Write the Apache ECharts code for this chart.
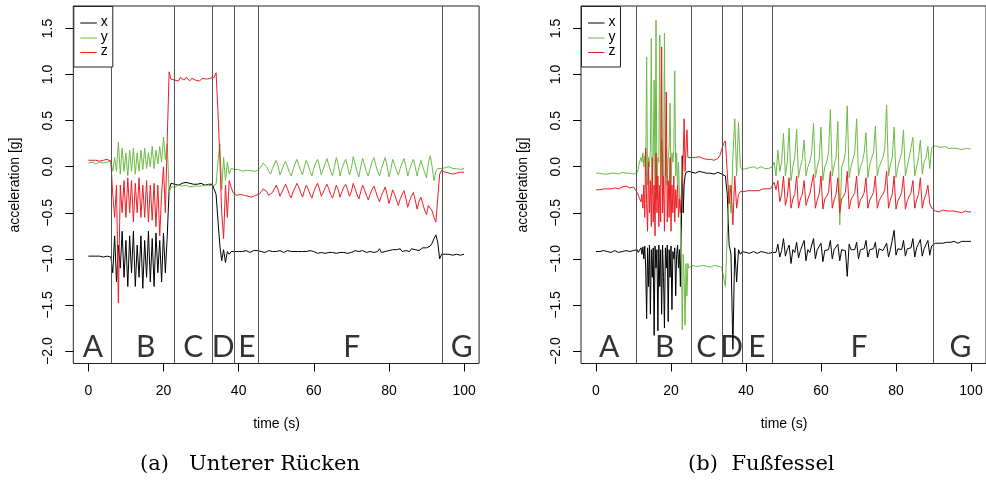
<!DOCTYPE html>
<html>
<head>
<meta charset="utf-8">
<script src="https://cdn.jsdelivr.net/npm/echarts@6/dist/echarts.min.js"></script>
<style>
html,body{margin:0;padding:0;background:#fff;}
#chart{width:986px;height:482px;}
</style>
</head>
<body>
<div id="chart"></div>
<script>
// ---------- sampling grids (seconds) ----------
const L_SEGMENTS = [[0, 100, 0.5]];
const R_SEGMENTS = [[0, 10.5, 0.5], [11, 24.75, 0.25], [25, 100, 0.5]];

// ---------- left panel: Unterer Rücken ----------
const L_X = [
-0.97,-0.98,-0.97,-0.98,-0.97,-0.98,-0.97,-0.97,-0.98,-0.97,
-0.97,-0.96,-0.98,-1.15,-0.75,-1.25,-0.85,-1.1,-0.7,-1.2,
-0.8,-1.3,-0.75,-1.15,-0.7,-1.3,-0.85,-1.2,-0.75,-1.32,
-0.8,-1.2,-0.7,-1.25,-0.78,-1.3,-0.72,-1.15,-0.8,-1.25,
-0.72,-1.15,-0.75,-0.25,-0.18,-0.2,-0.19,-0.17,-0.2,-0.18,
-0.18,-0.2,-0.17,-0.19,-0.18,-0.2,-0.19,-0.17,-0.19,-0.2,
-0.18,-0.19,-0.2,-0.18,-0.19,-0.2,-0.19,-0.21,-0.3,-0.58,
-0.85,-1.02,-0.9,-1.04,-0.92,-0.95,-0.92,-0.93,-0.92,-0.93,
-0.92,-0.93,-0.92,-0.92,-0.91,-0.92,-0.93,-0.92,-0.91,-0.92,
-0.91,-0.9,-0.92,-0.91,-0.93,-0.92,-0.91,-0.93,-0.92,-0.91,
-0.92,-0.93,-0.91,-0.92,-0.93,-0.92,-0.91,-0.93,-0.92,-0.93,
-0.92,-0.93,-0.92,-0.94,-0.92,-0.93,-0.92,-0.93,-0.91,-0.93,
-0.92,-0.93,-0.94,-0.92,-0.93,-0.92,-0.94,-0.92,-0.93,-0.92,
-0.93,-0.92,-0.94,-0.92,-0.93,-0.91,-0.93,-0.92,-0.94,-0.92,
-0.93,-0.92,-0.91,-0.93,-0.92,-0.94,-0.91,-0.92,-0.93,-0.91,
-0.92,-0.9,-0.93,-0.91,-0.92,-0.89,-0.93,-0.91,-0.92,-0.9,
-0.91,-0.93,-0.9,-0.92,-0.9,-0.91,-0.89,-0.92,-0.9,-0.91,
-0.9,-0.92,-0.89,-0.91,-0.9,-0.89,-0.91,-0.9,-0.88,-0.89,
-0.88,-0.87,-0.86,-0.83,-0.78,-0.74,-0.82,-1.0,-0.95,-0.96,
-0.95,-0.96,-0.95,-0.94,-0.96,-0.95,-0.95,-0.94,-0.96,-0.95,
-0.95];
const L_Y = [
0.04,0.03,0.05,0.04,0.03,0.04,0.05,0.03,0.04,0.04,
0.05,0.04,0.06,-0.05,0.1,-0.05,0.27,-0.08,0.2,-0.05,
0.15,-0.1,0.18,-0.05,0.2,-0.08,0.15,-0.05,0.18,-0.03,
0.2,-0.02,0.15,0.0,0.22,-0.02,0.18,0.03,0.22,0.05,
0.32,0.08,0.25,-0.28,-0.22,-0.2,-0.22,-0.21,-0.2,-0.22,
-0.21,-0.22,-0.2,-0.21,-0.22,-0.2,-0.21,-0.22,-0.21,-0.2,
-0.21,-0.22,-0.2,-0.21,-0.2,-0.22,-0.21,-0.2,-0.19,0.05,
0.25,-0.25,0.1,-0.15,0.05,-0.08,-0.02,-0.04,-0.03,-0.04,
-0.03,-0.04,-0.05,-0.03,-0.04,-0.05,-0.04,-0.03,-0.05,-0.04,
-0.04,-0.03,0.0,0.04,0.06,0.0,-0.05,-0.08,-0.02,0.03,
0.07,0.01,-0.09,-0.04,0.02,0.06,0.0,-0.06,-0.1,-0.03,
0.03,0.08,0.02,-0.04,-0.09,0.0,0.07,0.02,-0.05,-0.1,
-0.02,0.04,0.08,0.01,-0.09,-0.03,0.03,0.09,0.02,-0.05,
-0.1,0.0,0.1,0.02,-0.1,-0.02,0.04,0.08,0.0,-0.09,
-0.02,0.11,0.03,-0.05,-0.11,0.0,0.09,0.02,-0.05,-0.1,
-0.02,0.05,0.1,0.02,-0.05,-0.1,-0.02,0.04,0.1,0.01,
-0.11,-0.03,0.08,0.02,-0.04,-0.09,-0.02,0.04,0.09,0.01,
-0.1,-0.03,0.03,0.08,0.0,-0.1,-0.01,0.07,0.0,-0.06,
-0.12,0.04,0.12,0.0,-0.15,-0.05,-0.02,-0.01,-0.02,-0.01,
-0.01,-0.02,0.0,-0.01,-0.02,-0.01,-0.02,-0.01,-0.03,-0.02,
-0.02];
const L_Z = [
0.07,0.08,0.07,0.09,0.07,0.08,0.06,0.08,0.07,0.09,
0.08,0.1,0.06,-0.3,-0.55,-0.2,-1.48,-0.2,-0.5,-0.15,
-0.55,-0.12,-0.5,-0.15,-0.6,-0.18,-0.5,-0.12,-0.55,-0.2,
-0.55,-0.15,-0.6,-0.2,-0.58,-0.18,-0.65,-0.2,-0.75,-0.3,
0.0,-0.5,0.3,1.03,0.95,0.97,0.94,0.96,0.93,0.97,
0.95,0.94,0.97,0.95,0.93,0.96,0.95,0.94,0.96,0.93,
0.95,0.96,0.94,0.95,0.93,0.96,0.94,0.97,1.02,0.6,
0.1,-0.5,-0.78,-0.2,-0.55,-0.15,-0.22,-0.28,-0.3,-0.31,
-0.31,-0.3,-0.32,-0.31,-0.3,-0.32,-0.31,-0.33,-0.32,-0.31,
-0.32,-0.3,-0.27,-0.24,-0.22,-0.27,-0.31,-0.33,-0.28,-0.24,
-0.2,-0.25,-0.32,-0.28,-0.23,-0.19,-0.24,-0.3,-0.34,-0.27,
-0.23,-0.18,-0.22,-0.28,-0.33,-0.26,-0.2,-0.24,-0.3,-0.34,
-0.27,-0.22,-0.18,-0.24,-0.32,-0.28,-0.23,-0.19,-0.24,-0.3,
-0.34,-0.27,-0.2,-0.25,-0.33,-0.27,-0.22,-0.19,-0.25,-0.32,
-0.27,-0.18,-0.24,-0.3,-0.35,-0.27,-0.2,-0.25,-0.31,-0.36,
-0.3,-0.25,-0.21,-0.27,-0.33,-0.38,-0.31,-0.27,-0.22,-0.3,
-0.4,-0.33,-0.25,-0.3,-0.36,-0.42,-0.35,-0.3,-0.26,-0.34,
-0.44,-0.37,-0.32,-0.28,-0.36,-0.46,-0.38,-0.33,-0.4,-0.47,
-0.52,-0.42,-0.4,-0.48,-0.55,-0.6,-0.62,-0.08,-0.04,-0.05,
-0.06,-0.05,-0.07,-0.06,-0.08,-0.06,-0.07,-0.09,-0.06,-0.07,
-0.06];

// ---------- right panel: Fußfessel ----------
const R_X = [
-0.92,-0.91,-0.92,-0.93,-0.91,-0.92,-0.92,-0.91,-0.93,-0.92,
-0.91,-0.92,-0.93,-0.91,-0.92,-0.92,-0.91,-0.93,-0.92,-0.91,
-0.91,-0.92,
-0.9,-0.93,-0.91,-0.92,-0.88,-0.95,-0.87,-1.0,
-0.86,-1.1,-1.65,-0.88,-1.3,-0.85,-1.6,-0.9,
-1.2,-0.88,-1.83,-0.86,-1.1,-0.9,-1.78,-0.85,
-1.3,-0.9,-1.6,-0.85,-1.2,-1.75,-0.88,-1.1,
-0.85,-1.68,-0.9,-1.2,-0.86,-1.55,-0.92,-1.0,
-0.88,-1.4,-0.95,-0.85,-1.1,-0.9,-1.3,-0.7,
0.12,-0.5,-0.2,-0.1,-0.06,-0.05,-0.06,-0.05,
-0.05,-0.06,-0.05,-0.07,-0.06,-0.05,-0.07,-0.06,-0.06,-0.07,
-0.06,-0.07,-0.06,-0.08,-0.07,-0.06,-0.07,-0.08,-0.09,-0.1,
-0.3,-0.85,-0.95,-1.98,-0.88,-1.25,-0.9,-0.95,-0.92,-0.94,
-0.93,-0.92,-0.94,-0.93,-0.92,-0.93,-0.94,-0.93,-0.92,-0.94,
-0.93,-0.92,-0.94,-0.92,-0.93,-0.91,-0.93,-0.84,-0.98,-0.91,
-0.78,-0.97,-0.9,-0.85,-1.05,-0.9,-0.93,-0.82,-0.99,-0.91,
-0.92,-0.8,-1.02,-0.9,-0.93,-0.91,-0.78,-1.0,-0.9,-0.92,
-0.83,-1.03,-0.91,-0.93,-0.9,-0.8,-1.0,-0.9,-0.92,-0.84,
-1.02,-0.9,-0.92,-0.91,-1.19,-0.84,-0.9,-0.92,-0.9,-0.82,
-1.0,-0.9,-0.91,-0.89,-0.8,-0.98,-0.9,-0.91,-0.89,-0.82,
-0.99,-0.89,-0.9,-0.91,-0.89,-0.83,-0.98,-0.9,-0.89,-0.69,
-0.96,-0.89,-0.88,-0.9,-0.8,-0.97,-0.89,-0.9,-0.88,-0.78,
-0.98,-0.88,-0.9,-0.79,-0.97,-0.89,-0.88,-0.8,-0.96,-0.86,
-0.84,-0.83,-0.82,-0.83,-0.82,-0.83,-0.82,-0.82,-0.83,-0.82,
-0.82,-0.81,-0.82,-0.83,-0.82,-0.81,-0.82,-0.81,-0.82,-0.81,
-0.81];
const R_Y = [
-0.07,-0.08,-0.07,-0.06,-0.08,-0.07,-0.08,-0.06,-0.07,-0.08,
-0.07,-0.06,-0.08,-0.07,-0.06,-0.08,-0.07,-0.09,-0.07,-0.08,
-0.08,-0.09,
-0.06,-0.03,0.03,0.07,0.1,0.05,0.15,0.0,
0.12,-0.1,1.19,-0.2,0.1,0.0,0.2,1.39,
-0.3,0.1,0.94,-0.25,1.59,-0.35,0.1,0.05,
1.43,-0.2,0.3,0.1,-0.3,1.45,-0.1,0.2,
-0.2,0.1,0.2,0.69,-0.25,0.15,0.05,0.2,
1.04,-0.1,0.15,-0.25,0.05,-0.3,-0.55,-0.9,
-1.77,-0.95,-1.2,-1.72,-1.05,-1.4,-1.05,-1.1,
-1.08,-1.07,-1.09,-1.08,-1.07,-1.08,-1.09,-1.07,-1.08,-1.08,
-1.08,-1.09,-1.08,-1.07,-1.09,-1.08,-1.1,-1.09,-1.1,-1.3,
-0.75,-0.2,-0.5,0.1,0.52,-0.1,0.48,0.0,-0.03,-0.02,
-0.02,-0.03,-0.01,-0.02,0.0,-0.01,-0.02,-0.01,0.0,-0.02,
-0.02,-0.01,-0.02,-0.03,0.0,0.05,-0.1,0.18,-0.05,0.05,
0.36,-0.1,0.05,0.42,-0.15,0.0,0.1,0.41,-0.12,0.0,
0.08,0.29,-0.1,0.0,0.05,0.15,0.47,-0.12,0.0,0.08,
0.43,-0.15,0.0,0.05,0.15,0.62,-0.1,0.02,0.1,0.49,
-0.63,0.0,0.05,0.15,0.66,-0.12,0.0,0.08,0.15,0.52,
-0.1,0.0,0.05,0.15,0.37,-0.12,0.02,0.1,0.15,0.44,
-0.1,0.0,0.05,0.1,0.2,0.67,-0.1,0.02,0.1,0.43,
-0.12,0.0,0.08,0.15,0.4,-0.1,0.0,0.1,0.12,0.32,
-0.1,0.0,0.1,0.29,-0.08,0.05,0.1,0.22,-0.02,0.2,
0.23,0.21,0.22,0.2,0.21,0.2,0.22,0.21,0.2,0.19,
0.2,0.19,0.2,0.21,0.19,0.2,0.19,0.18,0.2,0.19,
0.19];
const R_Z = [
-0.25,-0.24,-0.25,-0.23,-0.24,-0.25,-0.24,-0.23,-0.24,-0.22,
-0.23,-0.22,-0.24,-0.23,-0.22,-0.23,-0.21,-0.22,-0.23,-0.21,
-0.22,-0.25,
-0.28,-0.3,-0.33,-0.35,-0.38,-0.3,-0.45,-0.2,
-0.55,0.2,-0.4,-0.7,0.05,-0.5,-0.15,-0.65,
0.1,-0.6,-0.2,-0.75,0.15,-0.5,-0.1,-0.65,
-0.2,-0.6,1.3,-0.5,-0.1,-0.7,0.0,0.81,
-0.6,-0.15,-0.55,0.1,-0.7,-0.2,-0.5,-0.1,
-0.6,-0.25,-0.45,-0.2,-0.55,-0.35,-0.5,-0.3,
-0.2,0.1,0.52,-0.05,0.2,0.4,0.1,0.12,
0.11,0.1,0.12,0.1,0.09,0.11,0.1,0.09,0.1,0.08,
0.09,0.08,0.1,0.07,0.08,0.09,0.12,0.18,0.25,0.28,
0.3,-0.4,-0.2,-0.63,-0.1,-0.45,-0.3,-0.27,-0.28,-0.27,
-0.27,-0.26,-0.27,-0.26,-0.25,-0.26,-0.25,-0.26,-0.25,-0.24,
-0.25,-0.24,-0.25,-0.24,-0.22,-0.17,-0.25,-0.15,-0.38,-0.3,
-0.1,-0.42,-0.33,-0.12,-0.45,-0.35,-0.3,-0.1,-0.45,-0.35,
-0.3,-0.15,-0.42,-0.35,-0.3,-0.28,-0.08,-0.45,-0.36,-0.3,
-0.1,-0.46,-0.35,-0.32,-0.28,-0.05,-0.45,-0.36,-0.3,-0.12,
-0.5,-0.35,-0.32,-0.28,-0.05,-0.46,-0.36,-0.32,-0.28,-0.1,
-0.45,-0.36,-0.33,-0.28,-0.12,-0.45,-0.36,-0.32,-0.28,-0.1,
-0.45,-0.37,-0.33,-0.3,-0.25,-0.05,-0.45,-0.36,-0.3,-0.1,
-0.46,-0.37,-0.33,-0.28,-0.1,-0.46,-0.37,-0.32,-0.28,-0.15,
-0.45,-0.36,-0.3,-0.12,-0.45,-0.35,-0.3,-0.2,-0.4,-0.45,
-0.47,-0.48,-0.47,-0.49,-0.48,-0.47,-0.49,-0.48,-0.5,-0.48,
-0.49,-0.48,-0.5,-0.49,-0.48,-0.5,-0.49,-0.48,-0.5,-0.49,
-0.49];

// ---------- phase boundaries and labels ----------
const L_BOUNDS = [6.0, 22.9, 33.1, 38.9, 45.3, 94.2];
const R_BOUNDS = [10.8, 25.3, 33.6, 39.0, 46.9, 89.9];
const PHASES = ['A', 'B', 'C', 'D', 'E', 'F', 'G'];
const L_PHASE_T = [1.2, 15.3, 27.9, 35.9, 42.2, 70.1, 99.4];
const R_PHASE_T = [3.5, 18.3, 29.4, 36.2, 42.9, 70.1, 97.2];
const PHASE_Y = -1.955;

// ---------- axes ----------
const X_TICKS = [0, 20, 40, 60, 80, 100];
const Y_TICKS = [-2, -1.5, -1, -0.5, 0, 0.5, 1, 1.5];
const X_RANGE = [-4, 104];
const Y_RANGE = [-2.135, 1.744];
const SERIES_NAMES = ['x', 'y', 'z'];
const COLORS = ['#000000', '#6cbb45', '#ee1d23'];
const CAPTIONS = [['(a)', 'Unterer Rücken'], ['(b)', 'Fußfessel']];

function buildTimes(segs) {
  const out = [];
  segs.forEach(([a, b, s]) => {
    const n = Math.round((b - a) / s);
    for (let i = 0; i <= n; i++) out.push(+(a + i * s).toFixed(3));
  });
  return out;
}
const L_T = buildTimes(L_SEGMENTS);
const R_T = buildTimes(R_SEGMENTS);

const SANS = "'Liberation Sans', Arial, Helvetica, sans-serif";
const chart = echarts.init(document.getElementById('chart'), null, {renderer: 'canvas'});

const grids = [
  {left: 73.3, top: 6, width: 405.8, height: 357.5},
  {left: 581, top: 6, width: 406.4, height: 357.5}
];

function xAxis(i) {
  return {
    type: 'value', gridIndex: i, min: X_RANGE[0], max: X_RANGE[1], position: 'bottom',
    axisLine: {show: false, onZero: false}, splitLine: {show: false},
    axisTick: {show: true, inside: false, length: 8, lineStyle: {color: '#000', width: 1}, customValues: X_TICKS},
    axisLabel: {show: true, customValues: X_TICKS, margin: 21, color: '#000', fontSize: 14, fontFamily: SANS,
      formatter: v => String(v)}
  };
}
function yAxis(i) {
  return {
    type: 'value', gridIndex: i, min: Y_RANGE[0], max: Y_RANGE[1], position: 'left',
    axisLine: {show: false, onZero: false}, splitLine: {show: false},
    axisTick: {show: true, inside: false, length: 8, lineStyle: {color: '#000', width: 1}, customValues: Y_TICKS},
    axisLabel: {show: true, customValues: Y_TICKS, rotate: 90, margin: 18, color: '#000', fontSize: 14, fontFamily: SANS,
      formatter: v => (v < 0 ? '\u2212' : '') + Math.abs(v).toFixed(1)}
  };
}

function lineSeries(name, idx, times, vals, color) {
  return {
    type: 'line', name: name, xAxisIndex: idx, yAxisIndex: idx,
    data: times.map((t, i) => [t, vals[i]]),
    symbol: 'none', showSymbol: false, sampling: null,
    lineStyle: {width: 1, color: color}, itemStyle: {color: color},
    animation: false, silent: true
  };
}

function phaseSeries(idx, ts, bounds) {
  return {
    type: 'scatter', xAxisIndex: idx, yAxisIndex: idx,
    data: ts.map((t, i) => [t, PHASE_Y, PHASES[i]]),
    symbol: 'circle', symbolSize: 1, itemStyle: {color: 'rgba(0,0,0,0)'}, silent: true, animation: false,
    label: {show: true, position: 'inside', formatter: p => p.data[2], color: '#000',
      fontSize: 30, fontFamily: "Lato, 'Noto Sans', sans-serif"},
    labelLayout: {hideOverlap: false},
    markLine: {
      silent: true, symbol: 'none', animation: false,
      label: {show: false},
      lineStyle: {color: '#555', width: 1, type: 'solid'},
      data: bounds.map(b => ({xAxis: b}))
    },
    z: 5
  };
}

const series = [];
[[L_T, [L_X, L_Y, L_Z]], [R_T, [R_X, R_Y, R_Z]]].forEach(([t, arrs], idx) => {
  arrs.forEach((a, k) => series.push(lineSeries(SERIES_NAMES[k], idx, t, a, COLORS[k])));
});
series.push(phaseSeries(0, L_PHASE_T, L_BOUNDS));
series.push(phaseSeries(1, R_PHASE_T, R_BOUNDS));

function textEl(x, y, text, font, align, rotation) {
  return {
    type: 'text', x: x, y: y, rotation: rotation || 0, silent: true, z: 100,
    style: {text: text, font: font, fill: '#000', align: align, textAlign: align,
      verticalAlign: 'middle', textVerticalAlign: 'middle'}
  };
}

function legendEls(x0) {
  const els = [{
    type: 'rect', silent: true, z: 90,
    shape: {x: x0 + 0.5, y: 6.5, width: 39, height: 60.5},
    style: {fill: '#fff', stroke: '#222', lineWidth: 1}
  }];
  const ys = [23, 38, 52.5];
  SERIES_NAMES.forEach((n, k) => {
    els.push({
      type: 'line', silent: true, z: 95,
      shape: {x1: x0 + 7, y1: ys[k], x2: x0 + 23.5, y2: ys[k]},
      style: {stroke: COLORS[k], lineWidth: 1}
    });
    els.push(textEl(x0 + 27.5, ys[k] - 1, n, "14px " + SANS, 'left'));
  });
  return els;
}

const SERIF = "21px 'DejaVu Serif', serif";
const graphic = [
  textEl(15, 185, 'acceleration [g]', "14px " + SANS, 'center', Math.PI / 2),
  textEl(523, 185, 'acceleration [g]', "14px " + SANS, 'center', Math.PI / 2),
  textEl(276.5, 424.5, 'time (s)', "14px " + SANS, 'center'),
  textEl(784, 424.5, 'time (s)', "14px " + SANS, 'center'),
  textEl(140, 465, CAPTIONS[0][0], SERIF, 'left'),
  textEl(189, 465, CAPTIONS[0][1], SERIF, 'left'),
  textEl(688, 465, CAPTIONS[1][0], SERIF, 'left'),
  textEl(731.5, 465, CAPTIONS[1][1], SERIF, 'left')
].concat(legendEls(73.3), legendEls(581));

chart.setOption({
  animation: false,
  backgroundColor: '#fff',
  grid: grids.map(g => Object.assign({show: true, borderColor: '#222', borderWidth: 1, backgroundColor: 'transparent'}, g)),
  xAxis: [xAxis(0), xAxis(1)],
  yAxis: [yAxis(0), yAxis(1)],
  series: series,
  graphic: graphic
});
</script>
</body>
</html>
